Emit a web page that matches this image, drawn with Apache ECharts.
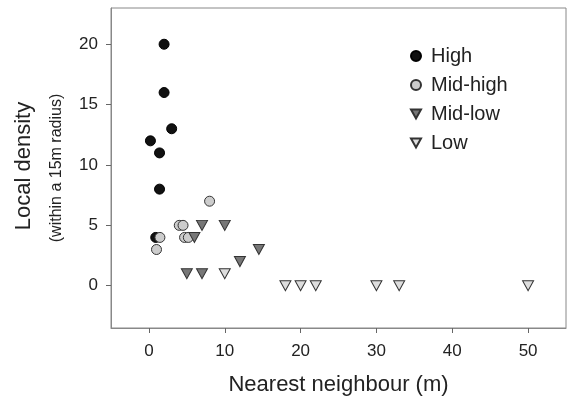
<!DOCTYPE html>
<html>
<head>
<meta charset="utf-8">
<script src="https://cdn.jsdelivr.net/npm/echarts@6/dist/echarts.min.js"></script>
<style>
  html, body { margin: 0; padding: 0; background: #fff; }
  #chart { width: 568px; height: 398px; }
</style>
</head>
<body>
<div id="chart"></div>
<script>
// nearest neighbour (m) vs local density, by density class
const highX = [2, 2, 3, 0.2, 1.4, 1.4, 0.9]
const highY = [20, 16, 13, 12, 11, 8, 4]
const midHighX = [1.45, 1, 4, 4.5, 4.7, 5.2, 8]
const midHighY = [4, 3, 5, 5, 4, 4, 7]
const midLowX = [6, 7, 10, 5, 7, 12, 14.5]
const midLowY = [4, 5, 5, 1, 1, 2, 3]
const lowX = [10, 18, 20, 22, 30, 33, 50]
const lowY = [1, 0, 0, 0, 0, 0, 0]
const xTicks = [0, 10, 20, 30, 40, 50]
const yTicks = [0, 5, 10, 15, 20]

const font = 'Liberation Sans, Arial, sans-serif'
const pair = (xs, ys) => xs.map((x, i) => [x, ys[i]])
const tri = 'path://M0,0 L10,0 L5,9 Z'

const chart = echarts.init(document.getElementById('chart'))
chart.setOption({
  animation: false,
  grid: { left: 111, right: 2, top: 8, bottom: 70, outerBoundsMode: 'none', containLabel: false,
    show: true, borderColor: '#888', borderWidth: 1 },
  legend: {
    orient: 'vertical', left: 405, top: 41,
    itemWidth: 10, itemHeight: 10, itemGap: 9,
    textStyle: { fontFamily: font, fontSize: 20, color: '#222', padding: [0, 0, 0, 5] },
    data: ['High', 'Mid-high', 'Mid-low', 'Low']
  },
  xAxis: {
    type: 'value', min: -5, max: 55,
    name: 'Nearest neighbour (m)', nameLocation: 'middle', nameGap: 46,
    nameTextStyle: { fontFamily: font, fontSize: 22, color: '#222' },
    axisLine: { show: true, onZero: false, lineStyle: { color: '#888' } },
    axisTick: { show: true, inside: false, length: 5, customValues: xTicks, lineStyle: { color: '#666' } },
    axisLabel: { customValues: xTicks, fontFamily: font, fontSize: 17, color: '#222', margin: 15 },
    splitLine: { show: false }
  },
  yAxis: {
    type: 'value', min: -3.5, max: 23,
    axisLine: { show: true, onZero: false, lineStyle: { color: '#888' } },
    axisTick: { show: true, inside: false, length: 5, customValues: yTicks, lineStyle: { color: '#666' } },
    axisLabel: { customValues: yTicks, fontFamily: font, fontSize: 17, color: '#222', margin: 13 },
    splitLine: { show: false }
  },
  graphic: [
    { type: 'text', x: 24, y: 166, rotation: Math.PI / 2, style: { text: 'Local density', font: '22px ' + font, fill: '#222', align: 'center', verticalAlign: 'middle' } },
    { type: 'text', x: 57, y: 168, rotation: Math.PI / 2, style: { text: '(within a 15m radius)', font: '16px ' + font, fill: '#222', align: 'center', verticalAlign: 'middle' } }
  ],
  series: [
    { name: 'High', type: 'scatter', symbol: 'circle', symbolSize: 10, data: pair(highX, highY),
      itemStyle: { color: '#111', borderColor: '#000', borderWidth: 1, opacity: 1 } },
    { name: 'Mid-high', type: 'scatter', symbol: 'circle', symbolSize: 10, data: pair(midHighX, midHighY),
      itemStyle: { color: '#ccc', borderColor: '#333', borderWidth: 1, opacity: 1 } },
    { name: 'Mid-low', type: 'scatter', symbol: tri, symbolSize: [11, 10], data: pair(midLowX, midLowY),
      itemStyle: { color: '#777', borderColor: '#333', borderWidth: 1, opacity: 1 } },
    { name: 'Low', type: 'scatter', symbol: tri, symbolSize: [11, 10], data: pair(lowX, lowY),
      itemStyle: { color: '#ddd', borderColor: '#333', borderWidth: 1, opacity: 1 } }
  ]
})
</script>
</body>
</html>
